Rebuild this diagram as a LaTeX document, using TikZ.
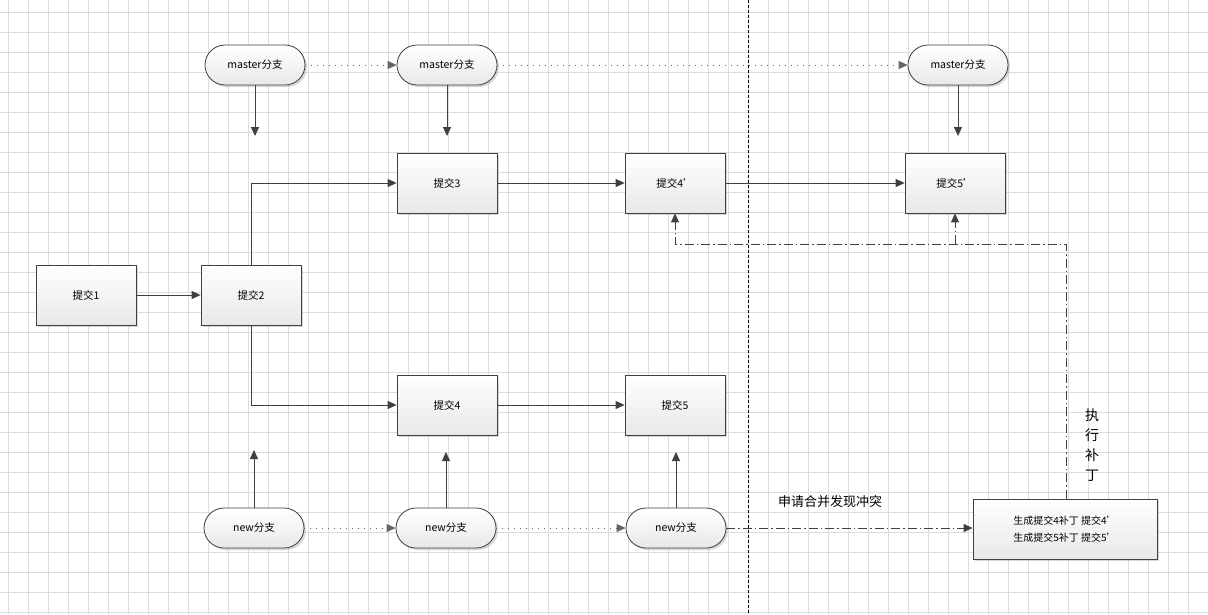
\documentclass[tikz,border=0pt]{standalone}
\usepackage{fontspec}
\setmainfont{Noto Sans CJK SC}
\usetikzlibrary{arrows.meta,shadows}
\definecolor{edge}{HTML}{404040}
\definecolor{gridc}{HTML}{DCDCDC}
\tikzset{
  gridline/.style={draw=gridc, line width=0.8pt},
  box/.style={draw=edge, line width=0.8pt, top color=white, bottom color=black!9,
    minimum width=100pt, minimum height=60pt, inner sep=0pt,
    drop shadow={shadow xshift=2pt, shadow yshift=-2pt, fill=black!30, opacity=0.5},
    font=\fontsize{10.5}{12}\selectfont},
  term/.style={box, rounded corners=20pt, minimum height=40pt},
  conn/.style={draw=edge, line width=0.9pt, -{Triangle[length=9pt,width=8pt]}},
  dots/.style={draw=edge!80, line width=0.9pt, dash pattern=on 1pt off 5pt, -{Triangle[length=9pt,width=8pt]}},
  dashdot/.style={draw=edge, line width=1pt, dash pattern=on 9pt off 3pt on 1.5pt off 3pt},
}
\begin{document}
\begin{tikzpicture}[x=1pt,y=-1pt]
\useasboundingbox (0,0) rectangle (1208,614);
\fill[white] (0,0) rectangle (1208,614);
\foreach \x in {8,28,...,1208} \draw[gridline] (\x,0) -- (\x,614);
\foreach \y in {12,32,...,614} \draw[gridline] (0,\y) -- (1208,\y);

% divider
\draw[black, line width=1pt, dash pattern=on 3pt off 2pt] (748,0) -- (748,614);

% branch terminals
\node[term] (m1) at (255,65) {master分支};
\node[term] (m2) at (447,65) {master分支};
\node[term] (m3) at (958,65) {master分支};
\node[term] (n1) at (254,528) {new分支};
\node[term] (n2) at (446,528) {new分支};
\node[term] (n3) at (676,528) {new分支};

% commits
\node[box] (c1) at (86,295) {提交1};
\node[box] (c2) at (251,295) {提交2};
\node[box] (c3) at (447,183) {提交3};
\node[box] (c4p) at (675,183) {提交4'};
\node[box] (c5p) at (955,183) {提交5'};
\node[box] (c4) at (447,405) {提交4};
\node[box] (c5) at (675,405) {提交5};
\node[box, minimum width=184pt, align=center, font=\fontsize{10}{17}\selectfont] (patch) at (1065,529)
  {生成提交4补丁 提交4'\\生成提交5补丁 提交5'};

% branch pointers
\coordinate (m1t) at (255,136);
\coordinate (m2t) at (447,136);
\coordinate (m3t) at (958,136);
\coordinate (n1t) at (254,450);
\coordinate (n2t) at (446,452);
\coordinate (n3t) at (676,452);
\draw[conn] (m1) -- (m1t);
\draw[conn] (m2) -- (m2t);
\draw[conn] (m3) -- (m3t);
\draw[conn] (n1) -- (n1t);
\draw[conn] (n2) -- (n2t);
\draw[conn] (n3) -- (n3t);

\draw[dots] (m1) -- (m2);
\draw[dots] (m2) -- (m3);
\draw[dots] (n1) -- (n2);
\draw[dots] (n2) -- (n3);

% commit edges
\draw[conn] (c1) -- (c2);
\draw[conn] (c2.north) |- (c3.west);
\draw[conn] (c2.south) |- (c4.west);
\draw[conn] (c3) -- (c4p);
\draw[conn] (c4p) -- (c5p);
\draw[conn] (c4) -- (c5);

% merge request and patch application
\draw[dashdot, -{Triangle[length=9pt,width=8pt]}] (n3.east) -- (n3.east -| patch.west);
\node[font=\fontsize{13}{15}\selectfont] (lbl) at (830,502) {申请合并发现冲突};

\coordinate (j) at (1066,244);
\draw[dashdot, -{Triangle[length=9pt,width=8pt]}] (patch.north -| j) -- (j) -| (c4p.south);
\draw[dashdot, -{Triangle[length=9pt,width=8pt]}] (c5p.south |- j) -- (c5p.south);
\node[font=\fontsize{14}{20}\selectfont, align=center] (exec) at (1092,445) {执\\行\\补\\丁};
\end{tikzpicture}
\end{document}
